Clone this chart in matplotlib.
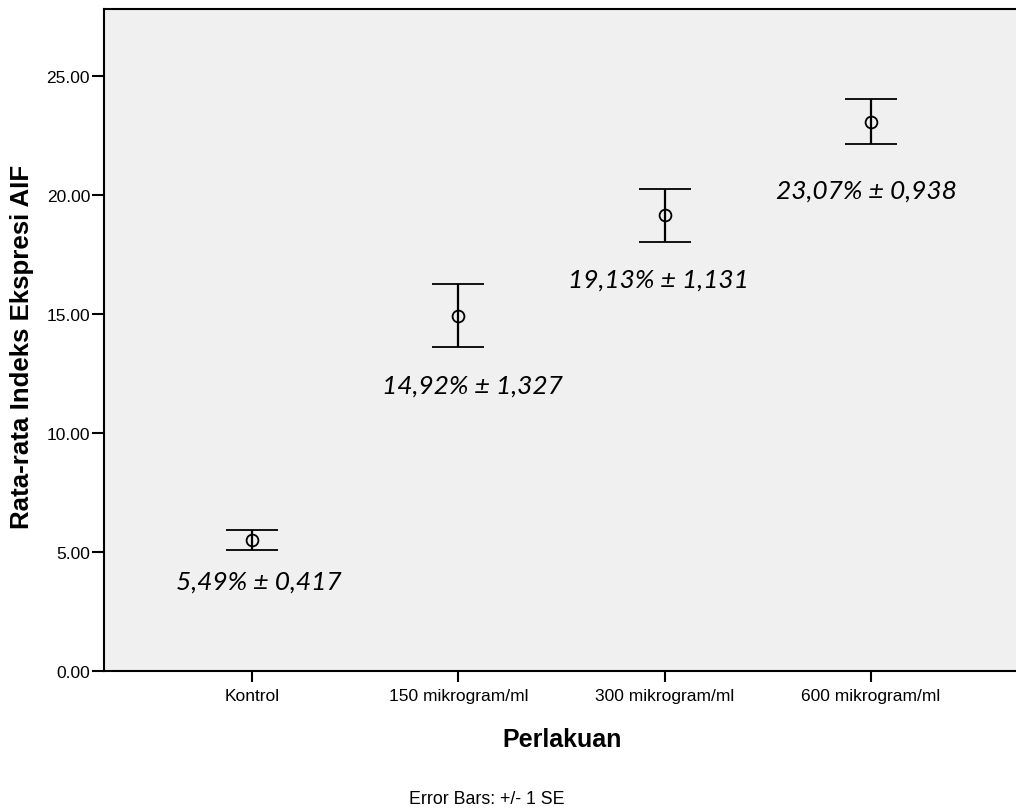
import numpy as np
import matplotlib
matplotlib.use("Agg")
import matplotlib.pyplot as plt

# Rata-rata indeks ekspresi AIF per perlakuan (mean +/- 1 SE)
perlakuan = ["Kontrol", "150 mikrogram/ml", "300 mikrogram/ml", "600 mikrogram/ml"]
rata_rata = [5.49, 14.92, 19.13, 23.07]
se = [0.417, 1.327, 1.131, 0.938]
yticks = [0.0, 5.0, 10.0, 15.0, 20.0, 25.0]

# jarak label nilai di bawah error bar (points)
label_dy = [-22.5, -27.5, -26.5, -33.5]
label_dx = [4.5, 10, -4.5, -3]

plt.rcParams["font.family"] = ["Liberation Sans", "DejaVu Sans"]

fig = plt.figure(figsize=(10.16, 8.12), dpi=100)
ax = fig.add_axes([104/1016, 140/812, 915/1016, 662/812])
ax.set_facecolor("#f0f0f0")

x = np.arange(1, len(perlakuan) + 1)
ax.errorbar(x, rata_rata, yerr=se, fmt="o", mfc="none", mec="black", ms=8.5,
            mew=1.3, ecolor="black", elinewidth=1.6, capsize=18.5, capthick=1.6,
            color="black")

for xi, m, s, dx, dy in zip(x, rata_rata, se, label_dx, label_dy):
    txt = ("%.2f%% \u00b1 %.3f" % (m, s)).replace(".", ",")
    ax.annotate(txt, (xi, m - s), xytext=(dx, dy), textcoords="offset points",
                ha="center", va="center", fontsize=19, style="italic",
                family=["Lato", "DejaVu Sans"])

ax.set_xlim(0.28, 4.72)
ax.set_ylim(0, 27.8)
ax.set_xticks(x)
ax.set_xticklabels(perlakuan, fontsize=12.5)
ax.set_yticks(yticks)
ax.set_yticklabels(["%.2f" % v for v in yticks], fontsize=12.5)
ax.tick_params(axis="y", direction="out", length=8.5, width=1.5, pad=1.5)
ax.tick_params(axis="x", direction="out", length=8, width=1.5, pad=4)

for side in ["left", "bottom", "top", "right"]:
    ax.spines[side].set_linewidth(1.5)
ax.spines["right"].set_visible(False)

fig.text(22/1016, 1 - 347/812, "Rata-rata Indeks Ekspresi AIF", rotation=90,
         ha="center", va="center", fontsize=18.6, fontweight="bold")
fig.text(562/1016, 1 - 740/812, "Perlakuan", ha="center", va="center",
         fontsize=18, fontweight="bold")
fig.text(487/1016, 1 - 800/812, "Error Bars: +/- 1 SE", ha="center",
         va="center", fontsize=12.8)

fig.savefig("out.png", dpi=100)
